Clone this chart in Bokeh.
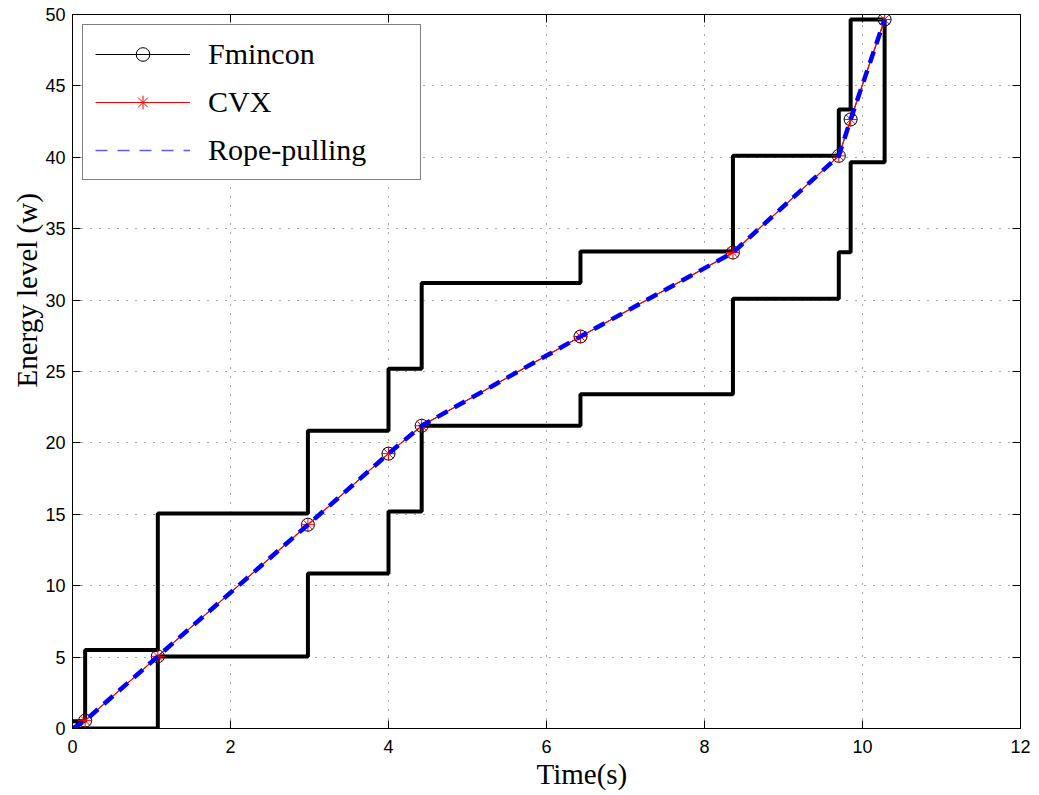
import math
from bokeh.plotting import figure
from bokeh.models import (Range1d, FixedTicker, LinearAxis, Legend, LegendItem,
                          Title, ColumnDataSource)
from bokeh.embed import file_html
from bokeh.resources import INLINE

# ---- data ----
t_points = [0.0, 0.16, 1.08, 2.98, 4.00, 4.42, 6.43, 8.36, 9.70, 9.85, 10.28]
energy = [0.0, 0.55, 5.05, 14.27, 19.25, 21.20, 27.45, 33.33, 40.10, 42.65, 49.65]
upper_levels = [0.5, 5.5, 15.05, 20.85, 25.2, 31.2, 33.4, 40.1, 43.35, 49.65]
lower_levels = [0.0, 0.0, 5.05, 10.85, 15.2, 21.2, 23.4, 30.1, 33.35, 39.65]
lower_end = 49.65
x_ticks = [0, 2, 4, 6, 8, 10, 12]
y_ticks = [0, 5, 10, 15, 20, 25, 30, 35, 40, 45, 50]


def step_xy(ts, levels):
    xs, ys = [], []
    for i, lv in enumerate(levels):
        xs += [ts[i], ts[i + 1]]
        ys += [lv, lv]
    return xs, ys


ux, uy = step_xy(t_points, upper_levels)
lx, ly = step_xy(t_points, lower_levels)
lx.append(t_points[-1])
ly.append(lower_end)

p = figure(width=1039, height=795, output_backend="svg", toolbar_location=None,
           x_range=Range1d(0, 12), y_range=Range1d(0, 50),
           min_border_left=72, min_border_right=19, min_border_top=14,
           min_border_bottom=67)
p.background_fill_color = "white"
p.border_fill_color = "white"
p.outline_line_color = "black"
p.outline_line_width = 1

tick_font = "Liberation Sans"
for ax in (p.xaxis[0], p.yaxis[0]):
    ax.major_tick_in = 8
    ax.major_tick_out = 0
    ax.minor_tick_line_color = None
    ax.axis_line_color = "black"
    ax.major_tick_line_color = "black"
    ax.major_label_text_font = tick_font
    ax.major_label_text_font_size = "18px"
    ax.major_label_text_color = "black"
p.xaxis[0].ticker = FixedTicker(ticks=x_ticks)
p.yaxis[0].ticker = FixedTicker(ticks=y_ticks)
p.xaxis[0].major_label_standoff = 11
p.yaxis[0].major_label_standoff = 7

top_ax = LinearAxis(ticker=FixedTicker(ticks=x_ticks), major_tick_in=8, major_tick_out=0,
                    minor_tick_line_color=None, major_label_text_font_size="1px",
                    major_label_text_color=None,
                    major_label_standoff=0, axis_line_color="black")
right_ax = LinearAxis(ticker=FixedTicker(ticks=y_ticks), major_tick_in=8, major_tick_out=0,
                      minor_tick_line_color=None, major_label_text_font_size="1px",
                      major_label_text_color=None,
                      major_label_standoff=0, axis_line_color="black")
p.add_layout(top_ax, "above")
p.add_layout(right_ax, "right")

for g in (p.xgrid[0], p.ygrid[0]):
    g.grid_line_color = "black"
    g.grid_line_alpha = 0.7
    g.grid_line_dash = "1 8"
    g.grid_line_width = 1
p.xgrid[0].ticker = FixedTicker(ticks=x_ticks)
p.ygrid[0].ticker = FixedTicker(ticks=y_ticks)

# bounds
p.line(ux, uy, line_color="black", line_width=4)
p.line(lx, ly, line_color="black", line_width=4)

src = ColumnDataSource(dict(t=t_points, e=energy))
fl = p.line("t", "e", source=src, line_color="black", line_width=1)
fm = p.scatter("t", "e", source=src, marker="circle", size=13, fill_color=None,
               line_color="black", line_width=1)
cl = p.line("t", "e", source=src, line_color="red", line_width=1.2)
cm = p.scatter("t", "e", source=src, marker="asterisk", size=14,
               line_color="red", line_width=1)
p.line("t", "e", source=src, line_color="blue", line_width=4.5, line_dash="12 8")

# legend-only proxy (thin dashed line as drawn in the reference legend)
nan = float("nan")
rl = p.line([nan, nan], [nan, nan], line_color="#5a5aff", line_width=1.5,
            line_dash="12 10")

legend = Legend(items=[LegendItem(label="Fmincon", renderers=[fl, fm]),
                       LegendItem(label="CVX", renderers=[cl, cm]),
                       LegendItem(label="Rope-pulling", renderers=[rl])],
                location="top_left")
legend.margin = 10
legend.padding = 12
legend.spacing = 14
legend.glyph_height = 34
legend.glyph_width = 95
legend.label_standoff = 18
legend.label_width = 200
legend.label_height = 34
legend.label_text_font = "Liberation Serif"
legend.label_text_font_size = "30px"
legend.label_text_color = "black"
legend.border_line_color = "black"
legend.border_line_width = 1
legend.background_fill_color = "white"
legend.background_fill_alpha = 1
p.add_layout(legend, "center")

# axis titles (offset like the reference)
p.add_layout(Title(text="Time(s)", align="left", offset=464, standoff=0,
                   text_font="Liberation Serif", text_font_size="29px",
                   text_font_style="normal", text_color="black"), "below")
p.add_layout(Title(text="Energy level (w)", align="left", offset=341, standoff=0,
                   text_font="Liberation Serif", text_font_size="29px",
                   text_font_style="normal", text_color="black"), "left")

open("out.html", "w").write(file_html(p, INLINE))
